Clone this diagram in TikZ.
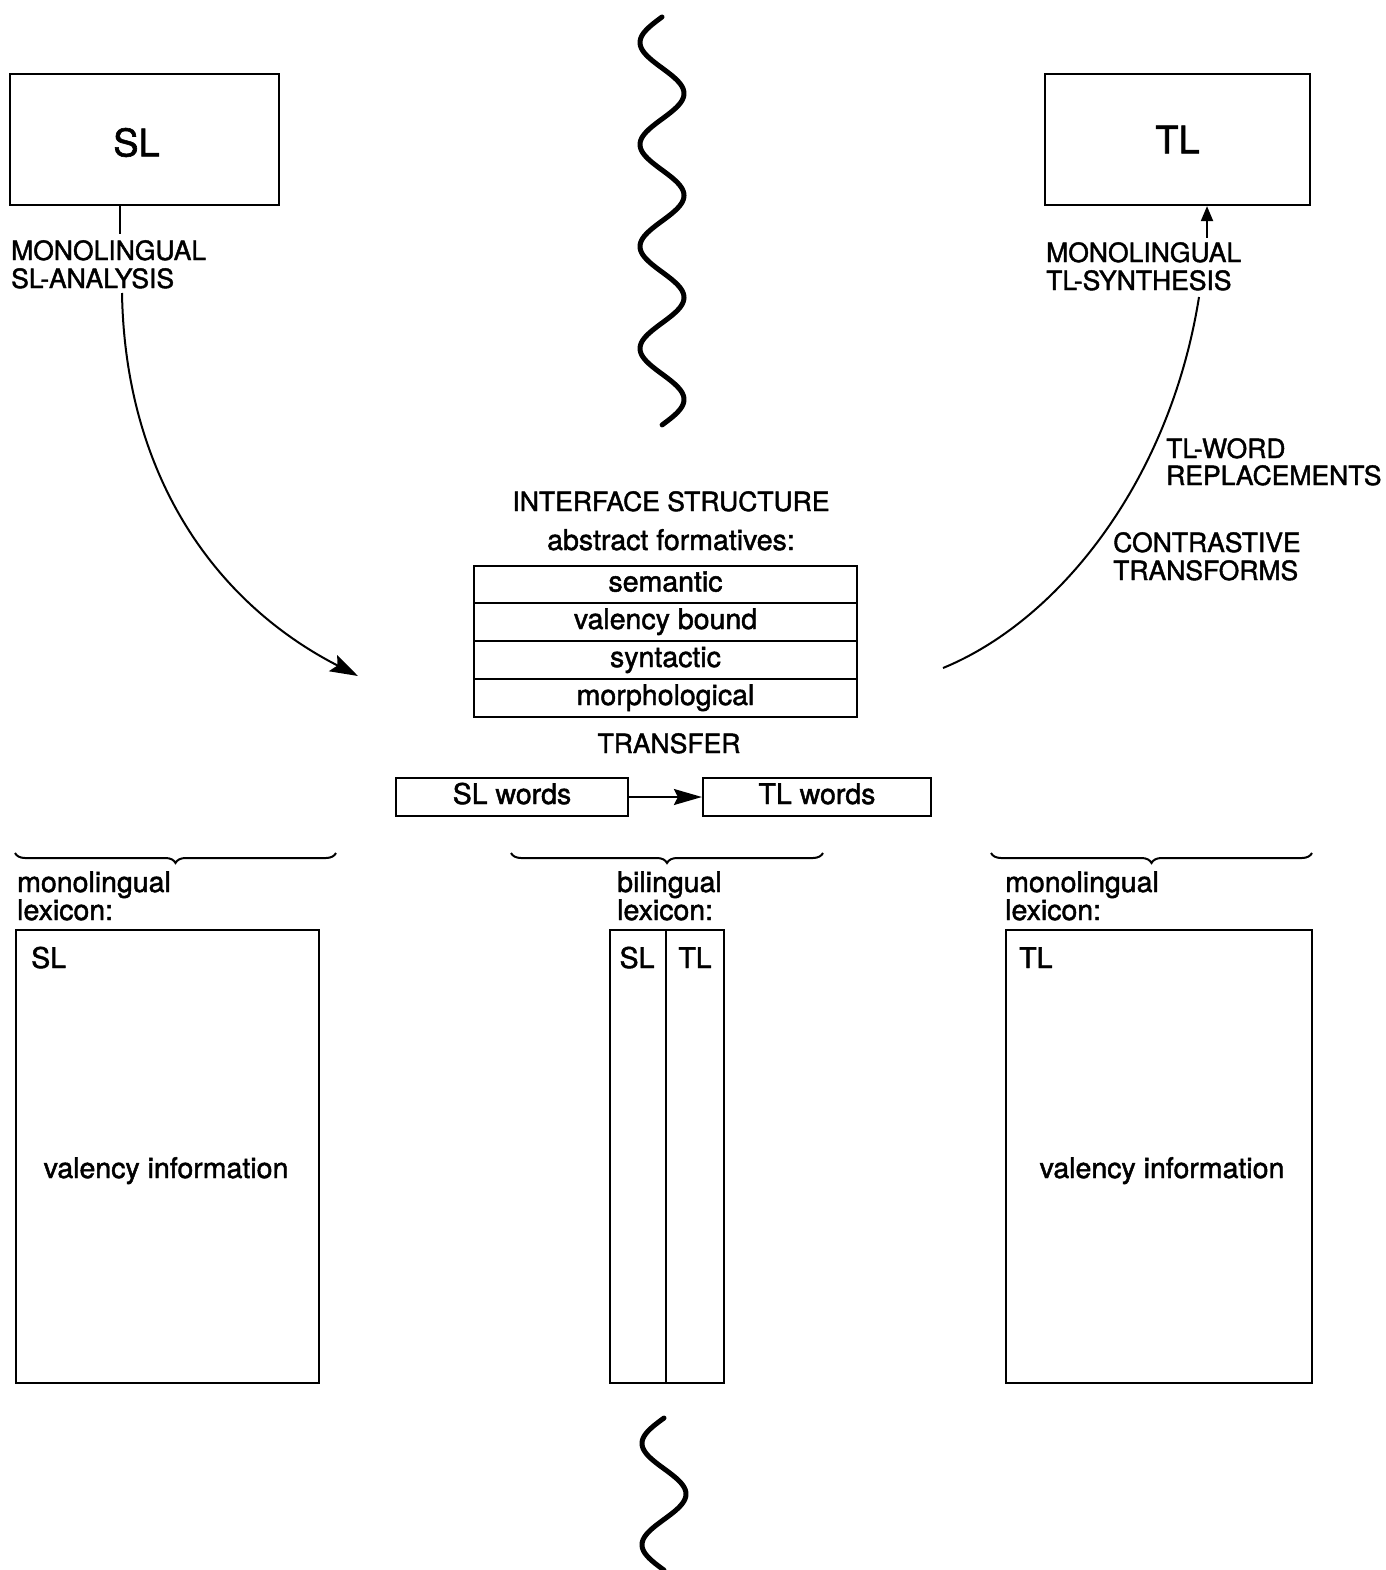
\documentclass[tikz,border=0pt]{standalone}
\usepackage{fontspec}
\setmainfont{TeX Gyre Heros}[FakeBold=1.6]
\usetikzlibrary{arrows.meta,decorations.pathreplacing}
\begin{document}
\begin{tikzpicture}[x=1pt,y=-1pt,
  box/.style={draw,line width=2.2pt,inner sep=0pt},
  captxt/.style={inner sep=0pt,anchor=base west,font=\fontsize{26.5}{28}\selectfont},
  lowtxt/.style={inner sep=0pt,font=\fontsize{28.5}{30}\selectfont},
  rowtxt/.style={text height=20pt,text depth=6pt},
  conn/.style={line width=2pt},
  wave/.style={line width=5pt,line cap=round},
  brc/.style={line width=2pt,decorate,decoration={brace,mirror,amplitude=10pt}},
  bigtxt/.style={font=\fontsize{38}{40}\selectfont}
]
\useasboundingbox (0,0) rectangle (1385,1570);

% top boxes
\node[box,minimum width=269pt,minimum height=131pt,
  label={[bigtxt,inner sep=0pt,xshift=-8pt,yshift=-3pt]center:SL}] (SL) at (144.5,139.5) {};
\node[box,bigtxt,minimum width=265pt,minimum height=131pt] (TL) at (1177.5,139.5) {TL};

% left side: analysis
\node[captxt] (mla1) at (11,260) {MONOLINGUAL};
\node[captxt] (mla2) at (11,288) {SL-ANALYSIS};
\coordinate (lstart) at (122,293);
\coordinate (ltip) at (358,676);
\draw[conn] ([xshift=-24.5pt]SL.south) -- (120,234);
\draw[conn,-{Stealth[length=28pt,width=18pt,inset=5pt]}] (lstart) .. controls (125,470) and (210,600) .. (ltip);

% right side: synthesis
\node[captxt] (mts1) at (1046,262) {MONOLINGUAL};
\node[captxt] (mts2) at (1046,290) {TL-SYNTHESIS};
\coordinate (rstart) at (943,668);
\coordinate (rend) at (1199,297);
\coordinate (rarr) at (1207,238);
\draw[conn] (rstart) .. controls (1060,620) and (1170,480) .. (rend);
\draw[conn,-{Triangle[length=15pt,width=12pt]}] (rarr) -- ([xshift=29.5pt]TL.south);
\node[captxt] (tlw1) at (1166,458) {TL-WORD};
\node[captxt] (tlw2) at (1166,485) {REPLACEMENTS};
\node[captxt] (ct1) at (1113,552) {CONTRASTIVE};
\node[captxt] (ct2) at (1113,580) {TRANSFORMS};

% wavy lines
\draw[wave] plot[domain=0:8,samples=200,smooth] ({662-22*sin(\x*180)},{17+\x*51});
\draw[wave] plot[domain=0:3,samples=90,smooth] ({664-22*sin(\x*180)},{1418+\x*50.7});

% interface structure
\node[captxt,anchor=base] (ist) at (671,511) {INTERFACE STRUCTURE};
\node[lowtxt,anchor=base] (abf) at (671,550) {abstract formatives:};
\node[box,lowtxt,rowtxt,minimum width=383pt,minimum height=37pt] (sem) at (665.5,584.5) {semantic};
\node[box,lowtxt,rowtxt,minimum width=383pt,minimum height=38pt] (val) at (665.5,622) {valency bound};
\node[box,lowtxt,rowtxt,minimum width=383pt,minimum height=38pt] (syn) at (665.5,660) {syntactic};
\node[box,lowtxt,rowtxt,minimum width=383pt,minimum height=38pt] (mor) at (665.5,698) {morphological};
\node[captxt,anchor=base] (trn) at (669,753) {TRANSFER};
\node[box,lowtxt,rowtxt,minimum width=232pt,minimum height=38pt] (slw) at (512,797) {SL words};
\node[box,lowtxt,rowtxt,minimum width=228pt,minimum height=38pt] (tlw) at (817,797) {TL words};
\draw[conn,-{Stealth[length=28pt,width=16pt,inset=4pt]}] (slw) -- (tlw);

% braces
\draw[brc] (15,853) -- (336,853);
\draw[brc] (511,853) -- (823,853);
\draw[brc] (991,853) -- (1312,853);

% lexicon labels
\node[lowtxt,anchor=base west] (ml1) at (17,892) {monolingual};
\node[lowtxt,anchor=base west] (ml2) at (17,920) {lexicon:};
\node[lowtxt,anchor=base west] (bl1) at (617,892) {bilingual};
\node[lowtxt,anchor=base west] (bl2) at (617,920) {lexicon:};
\node[lowtxt,anchor=base west] (mr1) at (1005,892) {monolingual};
\node[lowtxt,anchor=base west] (mr2) at (1005,920) {lexicon:};

% lexicon boxes
\node[box,minimum width=303pt,minimum height=453pt] (lexL) at (167.5,1156.5) {};
\node[lowtxt,anchor=base west] (lexLsl) at (31,968) {SL};
\node[lowtxt,anchor=base] (vinfL) at (166,1178) {valency information};

\node[box,minimum width=56pt,minimum height=453pt] (lexBs) at (638,1156.5) {};
\node[box,minimum width=58pt,minimum height=453pt] (lexBt) at (695,1156.5) {};
\node[lowtxt,anchor=base] (lexBsl) at (637,968) {SL};
\node[lowtxt,anchor=base] (lexBtl) at (695,968) {TL};

\node[box,minimum width=306pt,minimum height=453pt] (lexR) at (1159,1156.5) {};
\node[lowtxt,anchor=base west] (lexRtl) at (1019,968) {TL};
\node[lowtxt,anchor=base] (vinfR) at (1162,1178) {valency information};
\end{tikzpicture}
\end{document}
